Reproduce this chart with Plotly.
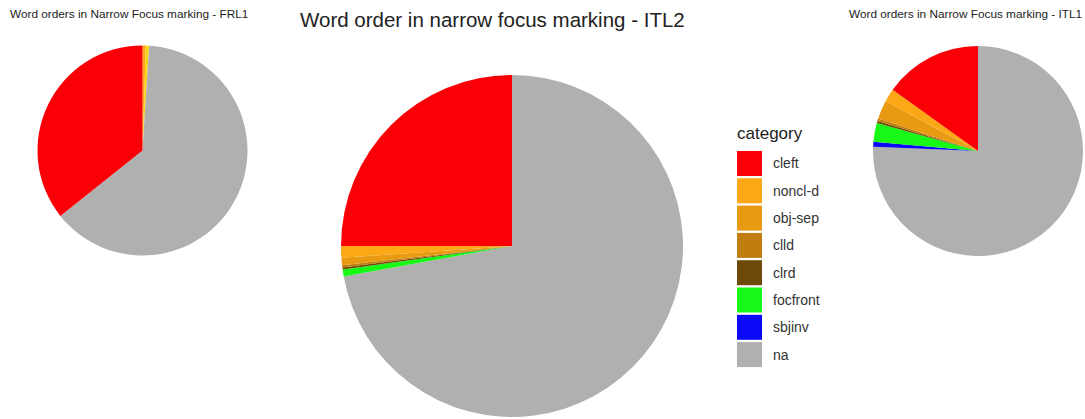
import plotly.graph_objects as go

W, H = 1085, 419

# Category order and fill colours (shared legend)
categories = ["cleft", "noncl-d", "obj-sep", "clld", "clrd", "focfront", "sbjinv", "na"]
colors = ["#FA0006", "#FCA715", "#E89B12", "#C07E0E", "#6E4A08", "#17F817", "#0A0AF8", "#B0B0B0"]
color_of = dict(zip(categories, colors))

# Percent shares per corpus
itl2_values = [25.0, 1.1, 0.7, 0.2, 0.2, 0.65, 0.0, 72.15]
itl1_values = [15.1, 2.0, 2.9, 0.4, 0.3, 2.9, 0.75, 75.65]

frl1_labels = ["cleft", "na", "other", "noncl-d"]
frl1_values = [35.7, 63.3, 0.5, 0.5]
frl1_colors = ["#FA0006", "#B0B0B0", "#FFD21A", "#FCA715"]


def dom(cx, cy, r):
    """Pie domain in paper coords from a pixel centre and radius."""
    return dict(x=[(cx - r) / W, (cx + r) / W], y=[1 - (cy + r) / H, 1 - (cy - r) / H])


def pie(labels, values, cols, domain):
    # stacked from 12 o'clock: first category sits just left of the top
    return go.Pie(
        labels=labels[::-1], values=values[::-1], sort=False, direction="clockwise",
        marker=dict(colors=cols[::-1], line=dict(width=0)), textinfo="none",
        hoverinfo="label+percent", showlegend=False, domain=domain,
    )


fig = go.Figure()
fig.add_trace(pie(frl1_labels, frl1_values, frl1_colors, dom(142.5, 150.5, 105)))
fig.add_trace(pie(categories, itl2_values, colors, dom(512, 246, 171)))
fig.add_trace(pie(categories, itl1_values, colors, dom(978, 151, 105)))

font_family = "Liberation Sans, Arial, sans-serif"
annotations = [
    dict(text="Word orders in Narrow Focus marking - FRL1", x=8 / W, y=1 - 14 / H,
         xanchor="left", yanchor="middle", font=dict(size=11.8, color="#222222")),
    dict(text="Word order in narrow focus marking - ITL2", x=492 / W, y=1 - 20 / H,
         xanchor="center", yanchor="middle", font=dict(size=20.5, color="#222222")),
    dict(text="Word orders in Narrow Focus marking - ITL1", x=1084 / W, y=1 - 14 / H,
         xanchor="right", yanchor="middle", font=dict(size=11.8, color="#222222")),
    dict(text="category", x=735 / W, y=1 - 133 / H, xanchor="left", yanchor="middle",
         font=dict(size=17, color="#222222")),
]

# Legend keys: square swatch plus label for each category
shapes = []
key_x0, key_y0, key_size, key_step = 737, 151, 25, 27.3
for i, cat in enumerate(categories):
    top = key_y0 + i * key_step
    shapes.append(dict(type="rect", xref="paper", yref="paper",
                       x0=key_x0 / W, x1=(key_x0 + key_size) / W,
                       y0=1 - (top + key_size) / H, y1=1 - top / H,
                       fillcolor=color_of[cat], line=dict(width=0)))
    annotations.append(dict(text=cat, x=771 / W, y=1 - (top + key_size / 2) / H,
                            xanchor="left", yanchor="middle",
                            font=dict(size=14, color="#333333")))

for a in annotations:
    a.update(xref="paper", yref="paper", showarrow=False)

fig.update_layout(
    width=W, height=H, margin=dict(l=0, r=0, t=0, b=0),
    paper_bgcolor="white", plot_bgcolor="white",
    font=dict(family=font_family),
    annotations=annotations, shapes=shapes,
)

fig.write_html("out.html")
